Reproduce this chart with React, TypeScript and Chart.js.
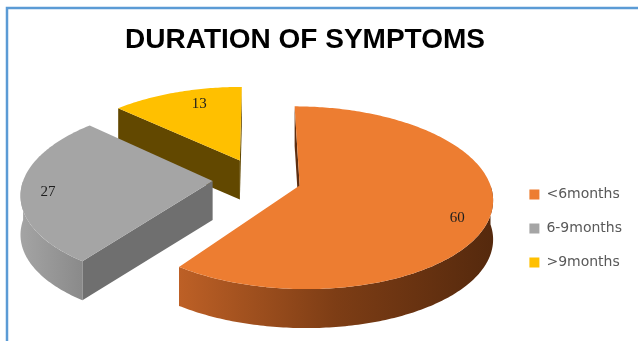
import React, { useEffect, useRef } from "react";
import { Chart, registerables } from "chart.js";

Chart.register(...registerables);

// ---- data ----
const TITLE = "DURATION OF SYMPTOMS";
const CATEGORIES = ["<6months", "6-9months", ">9months"];
const VALUES = [60, 27, 13];

// ---- styles ----
const TOP_COLORS = ["#ED7D31", "#A5A5A5", "#FFC000"];
const SIDE_GRADIENTS = [
  ["#bd6026", "#7d3d15", "#55290d"],
  ["#a4a4a4", "#8a8a8a"],
  ["#b38600", "#7a5c00"],
];
const FACE_COLORS = ["#5e2e10", "#6f6f6f", "#624800"];
// label placement per slice: [radius fraction, angle nudge in radians]
const LABEL_PLACEMENT = [
  [0.85, 0.1],
  [0.86, -0.05],
  [0.78, 0.08],
];

// 3D view parameters (layout, not data)
const VIEW = {
  cx: 257,
  cy: 179,
  rx: 189,
  ry: 88,
  tilt: 0.133,
  depth: 39,
  explode: 0.235,
};

type Pt = [number, number];

function project(u: number, v: number, down = 0): Pt {
  const w = 1 - VIEW.tilt * v;
  return [VIEW.cx + (VIEW.rx * u) / w, VIEW.cy + (VIEW.ry * v) / w + down];
}

interface Slice {
  i: number;
  s: number;
  e: number;
  h: number;
  ox: number;
  oy: number;
}

function pt(sl: Slice, a: number, r: number, down = 0): Pt {
  return project(sl.ox + r * Math.cos(a), sl.oy + r * Math.sin(a), down);
}

function signedArea(p: Pt[]): number {
  let s = 0;
  for (let k = 0; k < p.length; k++) {
    const a = p[k];
    const b = p[(k + 1) % p.length];
    s += a[0] * b[1] - b[0] * a[1];
  }
  return s / 2;
}

function fillPoly(ctx: CanvasRenderingContext2D, p: Pt[], style: string | CanvasGradient) {
  ctx.beginPath();
  ctx.moveTo(p[0][0], p[0][1]);
  for (let k = 1; k < p.length; k++) ctx.lineTo(p[k][0], p[k][1]);
  ctx.closePath();
  ctx.fillStyle = style;
  ctx.fill();
}

function arcPoints(sl: Slice, a0: number, a1: number, down = 0): Pt[] {
  const n = Math.max(6, Math.ceil(Math.abs(a1 - a0) / 0.015));
  const out: Pt[] = [];
  for (let k = 0; k <= n; k++) {
    const a = a0 + ((a1 - a0) * k) / n;
    out.push(pt(sl, a, 1, down));
  }
  return out;
}

function drawSlice(ctx: CanvasRenderingContext2D, sl: Slice, color: string) {
  const D = VIEW.depth;
  const i = sl.i;
  // radial faces
  const edges = [
    { a: sl.s, start: true },
    { a: sl.e, start: false },
  ];
  for (const ed of edges) {
    const V = pt(sl, 0, 0);
    const O = pt(sl, ed.a, 1);
    const Ob = pt(sl, ed.a, 1, D);
    const Vb = pt(sl, 0, 0, D);
    const quad = [V, O, Ob, Vb];
    const area = signedArea(quad);
    if ((ed.start && area < 0) || (!ed.start && area > 0)) {
      fillPoly(ctx, quad, FACE_COLORS[i]);
    }
  }
  // curved outer side (front half)
  const a0 = Math.max(sl.s, 0);
  const a1 = Math.min(sl.e, Math.PI);
  if (a1 > a0) {
    const top = arcPoints(sl, a0, a1);
    const bottom = arcPoints(sl, a1, a0, D);
    const poly = top.concat(bottom);
    let minX = Infinity;
    let maxX = -Infinity;
    for (const p of poly) {
      minX = Math.min(minX, p[0]);
      maxX = Math.max(maxX, p[0]);
    }
    const g = ctx.createLinearGradient(minX, 0, maxX, 0);
    const stops = SIDE_GRADIENTS[i];
    stops.forEach((c, k) => g.addColorStop(k / (stops.length - 1), c));
    fillPoly(ctx, poly, g);
  }
  // top face
  const topFace = [pt(sl, 0, 0)].concat(arcPoints(sl, sl.s, sl.e));
  fillPoly(ctx, topFace, color);
}

const pie3d = {
  id: "pie3d",
  beforeDatasetDraw(chart: any, args: any) {
    const meta = chart.getDatasetMeta(args.index);
    const ctx: CanvasRenderingContext2D = chart.ctx;
    const colors = chart.data.datasets[args.index].backgroundColor as string[];
    const values = chart.data.datasets[args.index].data as number[];
    const slices: Slice[] = meta.data.map((arc: any, i: number) => {
      const s = arc.startAngle;
      const e = arc.endAngle;
      const h = (s + e) / 2;
      return {
        i,
        s,
        e,
        h,
        ox: VIEW.explode * Math.cos(h),
        oy: VIEW.explode * Math.sin(h),
      };
    });
    const order = slices.slice().sort((a, b) => a.oy - b.oy);
    ctx.save();
    for (const sl of order) drawSlice(ctx, sl, colors[sl.i]);
    // value labels
    ctx.font = "15px 'Liberation Serif', serif";
    ctx.fillStyle = "#1e1e1e";
    ctx.textAlign = "center";
    ctx.textBaseline = "middle";
    for (const sl of slices) {
      const [r, nudge] = LABEL_PLACEMENT[sl.i];
      const [x, y] = pt(sl, sl.h + nudge, r);
      ctx.fillText(String(values[sl.i]), x, y);
    }
    ctx.restore();
    return false;
  },
};

const decor = {
  id: "decor",
  beforeDraw(chart: any) {
    const ctx: CanvasRenderingContext2D = chart.ctx;
    ctx.save();
    ctx.fillStyle = "#ffffff";
    ctx.fillRect(0, 0, chart.width, chart.height);
    // frame
    ctx.strokeStyle = "#5B9BD5";
    ctx.lineWidth = 2.5;
    ctx.beginPath();
    ctx.moveTo(7, chart.height);
    ctx.lineTo(7, 8);
    ctx.lineTo(chart.width, 8);
    ctx.stroke();
    // title
    ctx.fillStyle = "#000000";
    ctx.font = "bold 28px 'Liberation Sans', Arial, sans-serif";
    ctx.textAlign = "center";
    ctx.textBaseline = "alphabetic";
    ctx.fillText(TITLE, 305, 48);
    ctx.restore();
  },
};

export default function App() {
  const ref = useRef<HTMLCanvasElement | null>(null);
  useEffect(() => {
    if (!ref.current) return;
    const chart = new Chart(ref.current, {
      type: "pie",
      data: {
        labels: CATEGORIES,
        datasets: [
          {
            data: VALUES,
            backgroundColor: TOP_COLORS,
            borderWidth: 0,
          },
        ],
      },
      options: {
        animation: false,
        responsive: false,
        events: [],
        layout: { padding: { top: 116, right: 6, left: 0, bottom: 0 } },
        plugins: {
          legend: {
            position: "right",
            align: "center",
            labels: {
              boxWidth: 10,
              boxHeight: 10,
              padding: 20,
              color: "#595959",
              font: { family: "'DejaVu Sans', sans-serif", size: 14 },
            },
          },
          tooltip: { enabled: false },
          title: { display: false },
        },
      },
      plugins: [decor, pie3d],
    } as any);
    return () => chart.destroy();
  }, []);
  return (
    <div style={{ position: "fixed", left: 0, top: 0, width: 638, height: 341, background: "#fff" }}>
      <canvas ref={ref} width={638} height={341} style={{ display: "block" }} />
    </div>
  );
}
